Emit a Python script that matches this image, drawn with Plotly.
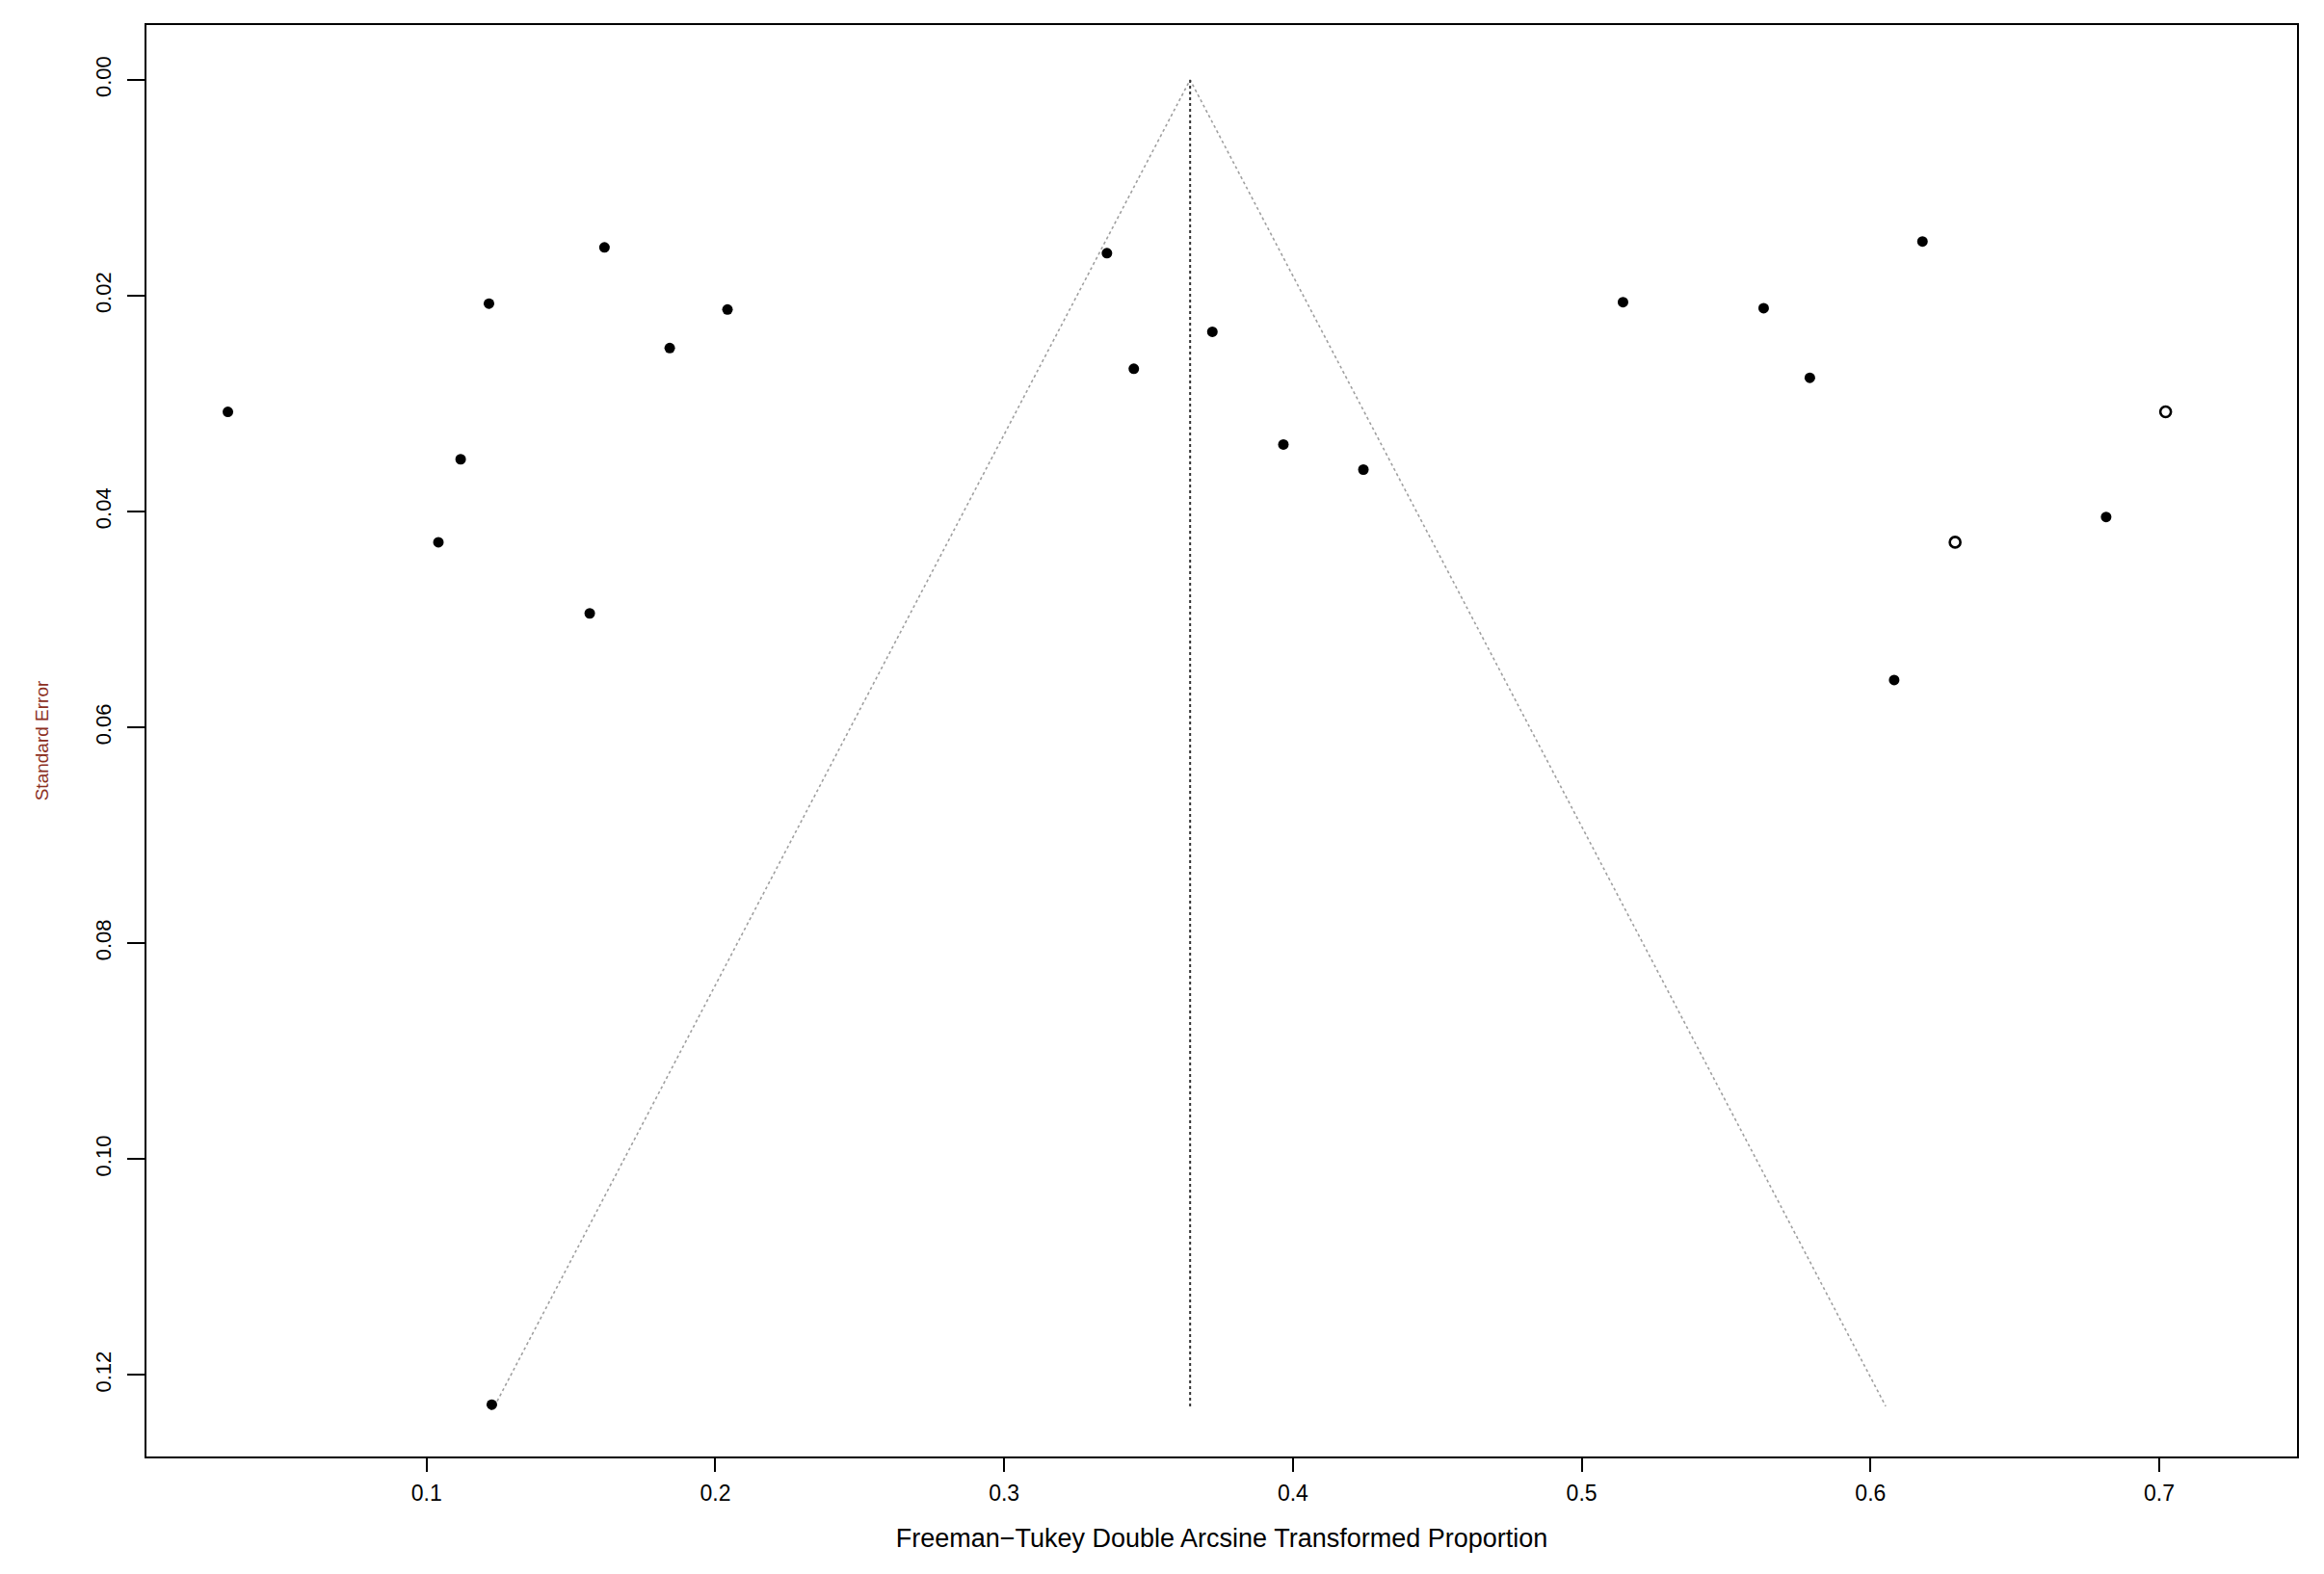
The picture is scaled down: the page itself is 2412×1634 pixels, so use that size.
import plotly.graph_objects as go

# Observed studies: transformed proportion and standard error
effect = [0.0312, 0.1216, 0.1616, 0.1118, 0.1041, 0.1565, 0.1842, 0.2042, 0.1226,
          0.3356, 0.3449, 0.3721, 0.3967, 0.4244,
          0.5143, 0.5630, 0.5790, 0.6180, 0.6082, 0.6816]
se = [0.03076, 0.02073, 0.01552, 0.03515, 0.04284, 0.04943, 0.02485, 0.02128, 0.12275,
      0.01606, 0.02677, 0.02334, 0.03378, 0.03611,
      0.02060, 0.02115, 0.02760, 0.01497, 0.05561, 0.04050]

# Imputed (trim-and-fill) studies
filled_effect = [0.6293, 0.7022]
filled_se = [0.04284, 0.03076]

# Funnel
center = 0.3644
se_max = 0.1229
z = 1.96

x_ticks = [0.1, 0.2, 0.3, 0.4, 0.5, 0.6, 0.7]
x_tick_labels = ["0.1", "0.2", "0.3", "0.4", "0.5", "0.6", "0.7"]
y_ticks = [0.00, 0.02, 0.04, 0.06, 0.08, 0.10, 0.12]
y_tick_labels = ["0.00", "0.02", "0.04", "0.06", "0.08", "0.10", "0.12"]

FONT = "Liberation Sans, Arial, sans-serif"

fig = go.Figure()
fig.add_trace(go.Scatter(
    x=[center - z * se_max, center, center + z * se_max],
    y=[se_max, 0, se_max],
    mode="lines", line=dict(color="#a0a0a0", width=1.6, dash="dot"),
    hoverinfo="skip", showlegend=False))
fig.add_trace(go.Scatter(
    x=[center, center], y=[0, se_max],
    mode="lines", line=dict(color="#333333", width=2, dash="dot"),
    hoverinfo="skip", showlegend=False))
fig.add_trace(go.Scatter(
    x=effect, y=se, mode="markers",
    marker=dict(color="black", size=11, line=dict(width=0)),
    showlegend=False))
fig.add_trace(go.Scatter(
    x=filled_effect, y=filled_se, mode="markers",
    marker=dict(color="white", size=11, line=dict(color="black", width=2.6)),
    showlegend=False))

fig.update_layout(
    width=2412, height=1634,
    margin=dict(l=144, r=36, t=18, b=130),
    paper_bgcolor="white", plot_bgcolor="white",
    font=dict(family=FONT, color="black"),
    xaxis=dict(
        range=[0.0030, 0.7477], tickvals=x_ticks, ticktext=x_tick_labels,
        showgrid=False, zeroline=False,
        showline=True, linecolor="black", linewidth=2, mirror=True,
        ticks="outside", ticklen=14, tickwidth=2, tickcolor="black",
        tickfont=dict(size=23, family=FONT), ticklabelstandoff=2,
        title=dict(text="Freeman\u2212Tukey Double Arcsine Transformed Proportion",
                   font=dict(size=27, family=FONT), standoff=26),
    ),
    yaxis=dict(
        range=[0.12755, -0.00508], tickvals=y_ticks, ticktext=y_tick_labels,
        showgrid=False, zeroline=False,
        showline=True, linecolor="black", linewidth=2, mirror=True,
        ticks="outside", ticklen=18, tickwidth=2, tickcolor="black",
        tickangle=-90, ticklabelstandoff=8,
        tickfont=dict(size=22, family=FONT),
        title=dict(text="Standard Error",
                   font=dict(size=19, family=FONT, color="#8b2e1e"), standoff=40),
    ),
)

fig.write_html("out.html")
